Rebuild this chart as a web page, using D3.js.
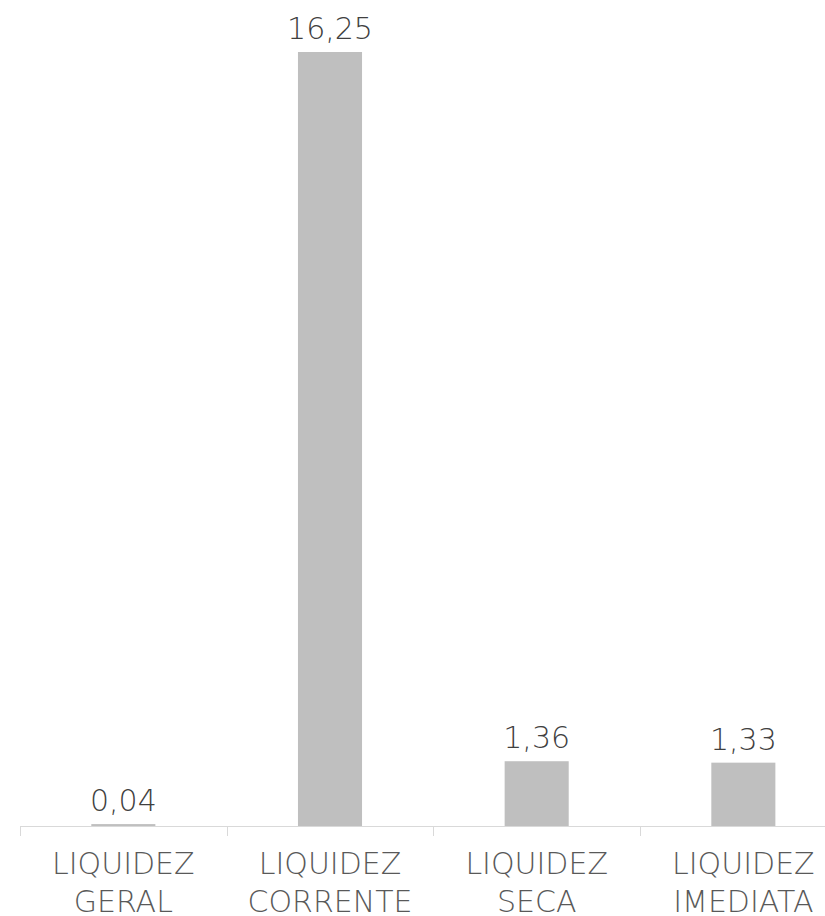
<!DOCTYPE html>
<html>
<head>
<meta charset="utf-8">
<script src="https://cdn.jsdelivr.net/npm/d3@7"></script>
<style>
  body { margin: 0; background: #fff; }
  svg text { font-family: "DejaVu Sans", sans-serif; font-weight: 200; }
</style>
</head>
<body>
<div id="chart"></div>
<script>
// data
const categories = ['LIQUIDEZ GERAL', 'LIQUIDEZ CORRENTE', 'LIQUIDEZ SECA', 'LIQUIDEZ IMEDIATA'];
const labelLines = [['LIQUIDEZ', 'GERAL'], ['LIQUIDEZ', 'CORRENTE'], ['LIQUIDEZ', 'SECA'], ['LIQUIDEZ', 'IMEDIATA']];
const values = [0.04, 16.25, 1.36, 1.33];

const width = 825, height = 916;
const margin = { left: 20, baseline: 826, top: 52 };
const step = 206.67;

const svg = d3.select('#chart').append('svg')
  .attr('width', width)
  .attr('height', height);

const x = d3.scaleBand()
  .domain(categories)
  .range([margin.left, margin.left + step * categories.length])
  .paddingInner(0.69)
  .paddingOuter(0.345);

const y = d3.scaleLinear()
  .domain([0, d3.max(values)])
  .range([margin.baseline, margin.top]);

const fmt = v => d3.format('.2f')(v).replace('.', ',');

// bars
svg.selectAll('rect.bar')
  .data(values)
  .enter()
  .append('rect')
    .attr('class', 'bar')
    .attr('x', (d, i) => x(categories[i]))
    .attr('y', d => y(d))
    .attr('width', x.bandwidth())
    .attr('height', d => y(0) - y(d))
    .attr('fill', '#bfbfbf');

// axis line + ticks at band edges
svg.append('line')
  .attr('x1', margin.left).attr('x2', width)
  .attr('y1', y(0) + 0.5).attr('y2', y(0) + 0.5)
  .attr('stroke', '#d9d9d9').attr('stroke-width', 1);

svg.selectAll('line.tick')
  .data(categories)
  .enter()
  .append('line')
    .attr('class', 'tick')
    .attr('x1', d => Math.round(x(d) - x.step() * x.paddingOuter()) + 0.5)
    .attr('x2', d => Math.round(x(d) - x.step() * x.paddingOuter()) + 0.5)
    .attr('y1', y(0))
    .attr('y2', y(0) + 10)
    .attr('stroke', '#d9d9d9');

// value labels
svg.selectAll('text.value')
  .data(values)
  .enter()
  .append('text')
    .attr('class', 'value')
    .attr('x', (d, i) => x(categories[i]) + x.bandwidth() / 2)
    .attr('y', d => y(d) - 13)
    .attr('text-anchor', 'middle')
    .attr('font-size', 30)
    .attr('fill', '#404040')
    .text(d => fmt(d));

// category labels
const cat = svg.selectAll('text.cat')
  .data(categories)
  .enter()
  .append('text')
    .attr('class', 'cat')
    .attr('x', d => x(d) + x.bandwidth() / 2)
    .attr('y', 874)
    .attr('text-anchor', 'middle')
    .attr('font-size', 30)
    .attr('fill', '#595959');

cat.selectAll('tspan')
  .data((d, i) => labelLines[i])
  .enter()
  .append('tspan')
    .attr('x', function() { return this.parentNode.getAttribute('x'); })
    .attr('dy', (d, i) => i === 0 ? 0 : 38)
    .text(d => d);
</script>
</body>
</html>
